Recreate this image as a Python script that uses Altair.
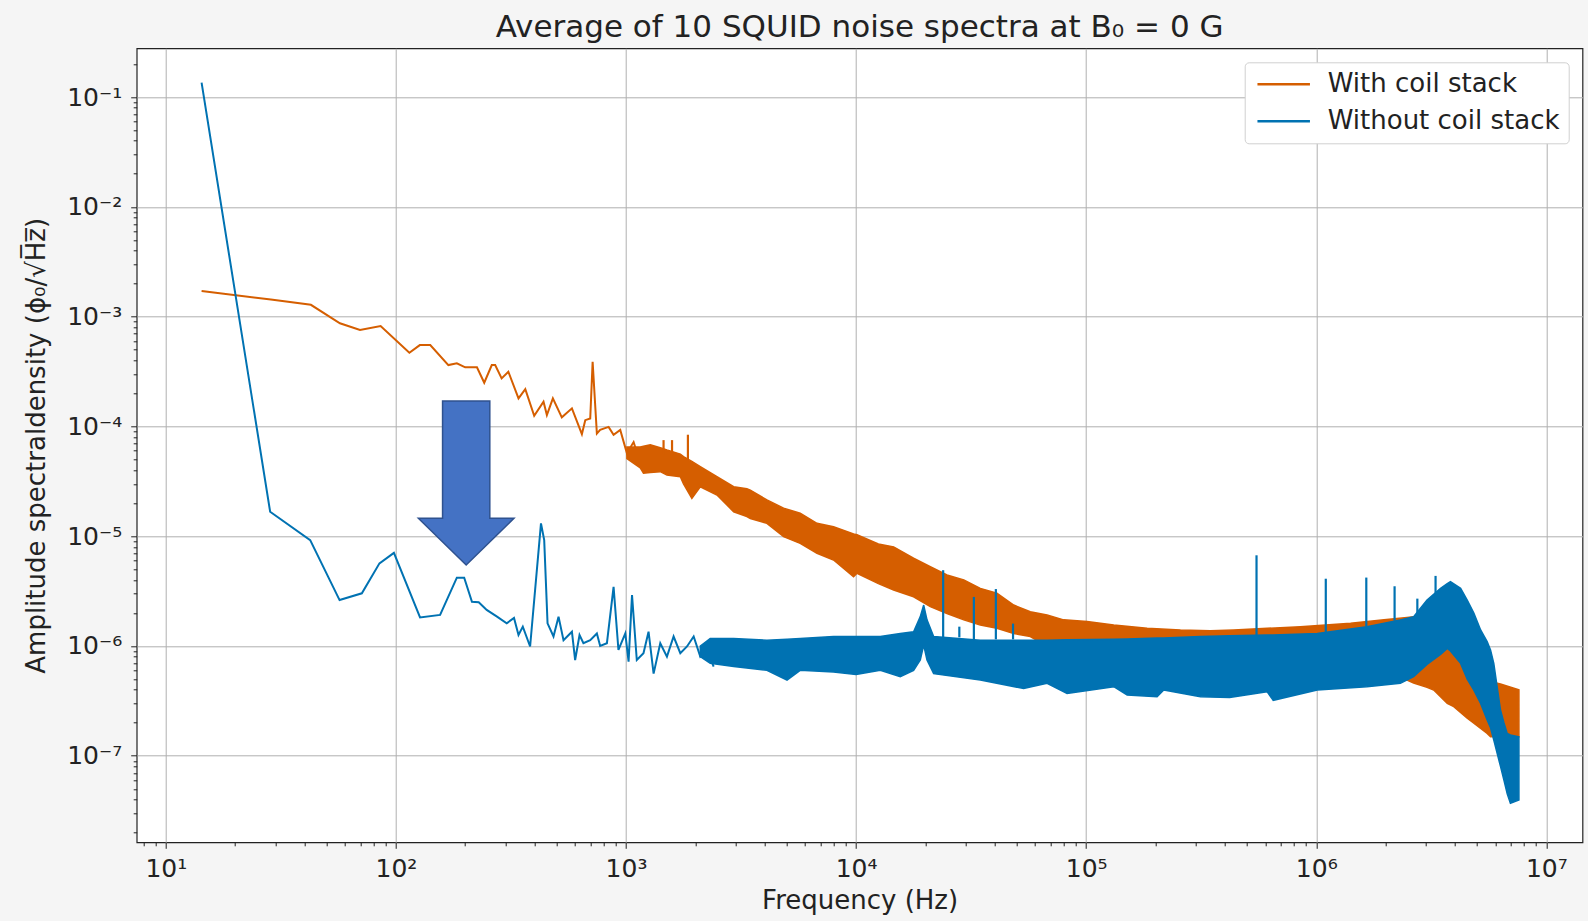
import math
import altair as alt
import pandas as pd

ORANGE = "#D55E00"
BLUE = "#0072B2"
SERIES = ["With coil stack", "Without coil stack"]

# ---- With coil stack: resolved low-frequency trace ----
orange_line_freq = [14.3, 28.6, 42.7, 57.1, 69.8, 85.8, 114.4, 127, 141, 169, 184, 200, 225, 242, 261,
                    270, 288, 308, 341, 365, 399, 438, 453, 481, 526, 582, 643, 665, 699, 716, 747,
                    772, 840, 883, 944, 1009, 1079, 1130]
orange_line_amp = [1.71e-3, 1.43e-3, 1.28e-3, 8.7e-4, 7.55e-4, 8.2e-4, 4.69e-4, 5.5e-4, 5.5e-4, 3.62e-4,
                   3.76e-4, 3.45e-4, 3.45e-4, 2.5e-4, 3.62e-4, 3.62e-4, 2.74e-4, 3.15e-4, 1.8e-4, 2.18e-4,
                   1.25e-4, 1.68e-4, 1.27e-4, 1.8e-4, 1.21e-4, 1.46e-4, 8.5e-5, 1.14e-4, 1.18e-4, 3.88e-4,
                   8.6e-5, 9.3e-5, 9.9e-5, 8.4e-5, 9.3e-5, 5.7e-5, 7.2e-5, 5.3e-5]

# ---- With coil stack: dense noise band (upper / lower envelope) ----
orange_band_freq = [1009, 1153, 1191, 1275, 1409, 1506, 1722, 1778, 1933, 2103, 2485, 2937, 3352, 3470,
                    4097, 4842, 5715, 6761, 7980, 9750, 10090, 12500, 14560, 17780, 21020, 24830, 29380,
                    34670, 40930, 48420, 57150, 67610, 79800, 100900, 131800, 184100, 257000, 346800,
                    437700, 853000, 1.41e6, 1.97e6, 2.48e6, 2.65e6, 3.03e6, 3.24e6, 3.71e6, 3.96e6,
                    4.53e6, 4.84e6, 5.53e6, 5.72e6, 6.12e6, 6.32e6, 7.6e6]
orange_band_upper = [6.5e-5, 6.5e-5, 6.6e-5, 6.8e-5, 6.4e-5, 6.1e-5, 5.6e-5, 5.3e-5, 4.8e-5, 4.3e-5,
                     3.48e-5, 2.82e-5, 2.7e-5, 2.63e-5, 2.14e-5, 1.8e-5, 1.62e-5, 1.31e-5, 1.22e-5,
                     1.05e-5, 1.03e-5, 8.5e-6, 8.0e-6, 6.3e-6, 5.27e-6, 4.43e-6, 4.0e-6, 3.35e-6, 3.02e-6,
                     2.36e-6, 2.05e-6, 1.92e-6, 1.73e-6, 1.67e-6, 1.55e-6, 1.45e-6, 1.40e-6, 1.38e-6,
                     1.40e-6, 1.50e-6, 1.61e-6, 1.73e-6, 1.82e-6, 1.85e-6, 1.6e-6, 1.4e-6, 1.1e-6, 1.0e-6,
                     8.0e-7, 7.0e-7, 5.5e-7, 5.0e-7, 4.57e-7, 4.5e-7, 4.0e-7]
orange_band_lower = [5.1e-5, 4.2e-5, 3.74e-5, 3.8e-5, 3.87e-5, 3.6e-5, 3.48e-5, 3.0e-5, 2.21e-5, 2.82e-5,
                     2.37e-5, 1.67e-5, 1.51e-5, 1.45e-5, 1.31e-5, 9.9e-6, 8.6e-6, 7.0e-6, 6.07e-6, 4.28e-6,
                     4.6e-6, 3.7e-6, 3.24e-6, 2.81e-6, 2.28e-6, 1.98e-6, 1.73e-6, 1.55e-6, 1.45e-6, 1.30e-6,
                     1.22e-6, 1.0e-6, 9.0e-7, 8.0e-7, 7.0e-7, 6.0e-7, 5.5e-7, 5.0e-7, 5.0e-7, 5.0e-7,
                     5.0e-7, 5.0e-7, 4.9e-7, 4.6e-7, 4.2e-7, 3.97e-7, 3.0e-7, 2.8e-7, 2.2e-7, 1.98e-7,
                     1.6e-7, 1.49e-7, 1.5e-7, 1.54e-7, 1.49e-7]

# ---- With coil stack: narrow lines sticking out of the band ----
orange_spike_freq = [1456, 1585, 1858]
orange_spike_base = [5.5e-5, 5.5e-5, 5.0e-5]
orange_spike_peak = [7.5e-5, 7.5e-5, 8.4e-5]

# ---- Without coil stack: resolved low-frequency trace ----
blue_line_freq = [14.3, 28.4, 42.4, 56.9, 71.1, 84.8, 98, 127.3, 155.6, 184, 198, 214, 229, 248, 275, 303,
                  326, 341, 356, 383, 427, 441, 456, 484, 509, 535, 582, 601, 628, 653, 699, 747, 772,
                  826, 883, 927, 993, 1026, 1062, 1114, 1191, 1253, 1318, 1409, 1506, 1610, 1722, 1841,
                  1968, 2103, 2249, 2404]
blue_line_amp = [0.135, 1.67e-5, 9.2e-6, 2.62e-6, 3.02e-6, 5.66e-6, 7.05e-6, 1.82e-6, 1.92e-6, 4.19e-6,
                 4.19e-6, 2.53e-6, 2.5e-6, 2.13e-6, 1.85e-6, 1.61e-6, 1.8e-6, 1.26e-6, 1.5e-6, 9.9e-7,
                 1.31e-5, 9.2e-6, 1.61e-6, 1.22e-6, 1.85e-6, 1.13e-6, 1.35e-6, 7.45e-7, 1.26e-6, 1.06e-6,
                 1.13e-6, 1.30e-6, 1.0e-6, 1.06e-6, 3.45e-6, 9.2e-7, 1.3e-6, 7.2e-7, 2.91e-6, 7.45e-7,
                 8.6e-7, 1.35e-6, 5.6e-7, 1.06e-6, 8.0e-7, 1.22e-6, 8.6e-7, 9.9e-7, 1.22e-6, 8.0e-7,
                 9.2e-7, 6.5e-7]

# ---- Without coil stack: dense noise band ----
blue_band_freq = [2103, 2323, 2937, 4097, 5010, 5715, 7980, 10000, 12740, 15560, 17780, 19010, 19670,
                  20330, 21730, 34670, 53500, 67610, 82600, 131800, 150700, 203300, 217300, 313900, 420000,
                  611000, 650000, 1.01e6, 1.66e6, 2.32e6, 2.65e6, 3.03e6, 3.47e6, 3.71e6, 3.83e6, 4.24e6,
                  4.53e6, 4.84e6, 5.18e6, 5.53e6, 5.72e6, 5.91e6, 6.32e6, 6.54e6, 6.76e6, 6.98e6, 7.6e6]
blue_band_upper = [1.0e-6, 1.17e-6, 1.17e-6, 1.13e-6, 1.15e-6, 1.17e-6, 1.22e-6, 1.22e-6, 1.22e-6, 1.30e-6,
                   1.35e-6, 1.85e-6, 2.36e-6, 1.73e-6, 1.22e-6, 1.13e-6, 1.13e-6, 1.13e-6, 1.14e-6,
                   1.15e-6, 1.16e-6, 1.18e-6, 1.18e-6, 1.22e-6, 1.24e-6, 1.26e-6, 1.26e-6, 1.30e-6,
                   1.50e-6, 1.73e-6, 1.85e-6, 2.62e-6, 3.35e-6, 3.7e-6, 3.86e-6, 3.35e-6, 2.62e-6, 2.0e-6,
                   1.40e-6, 1.1e-6, 9.2e-7, 6.95e-7, 2.61e-7, 2.0e-7, 1.6e-7, 1.55e-7, 1.49e-7]
blue_band_lower = [8.0e-7, 6.95e-7, 6.5e-7, 6.0e-7, 4.9e-7, 6.0e-7, 5.8e-7, 5.5e-7, 6.0e-7, 5.26e-7,
                   6.0e-7, 7.45e-7, 1.02e-6, 7.45e-7, 5.6e-7, 4.9e-7, 4.1e-7, 4.57e-7, 3.7e-7, 4.26e-7,
                   3.58e-7, 3.45e-7, 3.98e-7, 3.45e-7, 3.4e-7, 3.84e-7, 3.2e-7, 3.97e-7, 4.26e-7, 4.57e-7,
                   5.26e-7, 6.8e-7, 8.4e-7, 9.5e-7, 9.0e-7, 6.95e-7, 5.0e-7, 3.97e-7, 3.0e-7, 2.12e-7,
                   1.8e-7, 1.39e-7, 8.0e-8, 6.0e-8, 4.5e-8, 3.7e-8, 3.95e-8]

# ---- Without coil stack: narrow spectral lines ----
blue_spike_freq = [2.39e4, 2.81e4, 3.25e4, 4.05e4, 4.81e4, 5.5e5, 1.1e6, 1.65e6, 2.19e6, 2.75e6, 3.3e6]
blue_spike_base = [1.2e-6, 1.2e-6, 1.15e-6, 1.15e-6, 1.15e-6, 1.25e-6, 1.3e-6, 1.5e-6, 1.7e-6, 1.9e-6, 3.0e-6]
blue_spike_peak = [4.9e-6, 1.5e-6, 2.8e-6, 3.3e-6, 1.6e-6, 6.7e-6, 4.1e-6, 4.2e-6, 3.5e-6, 2.7e-6, 4.35e-6]

# ---- annotation arrow (data coordinates of its centre) ----
arrow_freq = [202]
arrow_amp = [3.05e-5]
ARROW_PATH = "M-0.288,-1 L0.288,-1 L0.288,0.43 L0.583,0.43 L0,1 L-0.583,0.43 L-0.288,0.43 Z"

# ---- axis tick values ----
x_major = [10.0, 100.0, 1000.0, 1e4, 1e5, 1e6, 1e7]
y_major = [1e-7, 1e-6, 1e-5, 1e-4, 1e-3, 1e-2, 1e-1]
x_minor = [float(f"{m}e{k}") for k in range(0, 7) for m in range(2, 10)]
x_minor = [v for v in x_minor if v > 7.47]
y_minor = [float(f"{m}e{k}") for k in range(-8, 0) for m in range(2, 10)]
y_minor = [v for v in y_minor if 1.63e-8 < v < 0.2777]

SUP = str.maketrans("0123456789-", "⁰¹²³⁴⁵⁶⁷⁸⁹⁻")


def label_expr(majors):
    expr = "''"
    for v in reversed(majors):
        e = int(round(math.log10(v)))
        expr = f"datum.value == {v!r} ? '10{str(e).translate(SUP)}' : ({expr})"
    return expr


def major_test(majors):
    return "indexof([" + ",".join(repr(v) for v in majors) + "], datum.value) >= 0"


FONT = "DejaVu Sans"
TXT = "#222222"

x_scale = alt.Scale(type="log", domain=[7.47, 1.436e7], nice=False)
y_scale = alt.Scale(type="log", domain=[1.63e-8, 0.2777], nice=False)

x_axis = alt.Axis(
    values=x_major + x_minor,
    labelExpr=label_expr(x_major),
    title="Frequency (Hz)",
    grid=True,
    gridColor="#b0b0b0",
    gridWidth=1,
    gridOpacity={"condition": {"test": major_test(x_major), "value": 1}, "value": 0},
    tickSize={"condition": {"test": major_test(x_major), "value": 6}, "value": 3.5},
    tickColor=TXT,
    domain=False,
    labelFont=FONT,
    labelFontSize=25,
    labelColor=TXT,
    labelPadding=8,
    labelOverlap=False,
    labelFlush=False,
    titleFont=FONT,
    titleFontSize=26,
    titleFontWeight="normal",
    titleColor=TXT,
    titlePadding=6,
)

y_axis = alt.Axis(
    values=y_major + y_minor,
    labelExpr=label_expr(y_major),
    title="Amplitude spectraldensity (ϕ₀/√H̅z̅)",
    grid=True,
    gridColor="#b0b0b0",
    gridWidth=1,
    gridOpacity={"condition": {"test": major_test(y_major), "value": 1}, "value": 0},
    tickSize={"condition": {"test": major_test(y_major), "value": 6}, "value": 3.5},
    tickColor=TXT,
    domain=False,
    labelFont=FONT,
    labelFontSize=25,
    labelColor=TXT,
    labelPadding=9,
    labelOverlap=False,
    titleFont=FONT,
    titleFontSize=26,
    titleFontWeight="normal",
    titleColor=TXT,
    titlePadding=17,
)

orange_line_df = pd.DataFrame({"freq": orange_line_freq, "amp": orange_line_amp, "series": SERIES[0]})
blue_line_df = pd.DataFrame({"freq": blue_line_freq, "amp": blue_line_amp, "series": SERIES[1]})
orange_band_df = pd.DataFrame({"freq": orange_band_freq, "upper": orange_band_upper, "lower": orange_band_lower})
blue_band_df = pd.DataFrame({"freq": blue_band_freq, "upper": blue_band_upper, "lower": blue_band_lower})
orange_spike_df = pd.DataFrame({"freq": orange_spike_freq, "base": orange_spike_base, "peak": orange_spike_peak})
spike_df = pd.DataFrame({"freq": blue_spike_freq, "base": blue_spike_base, "peak": blue_spike_peak})
arrow_df = pd.DataFrame({"freq": arrow_freq, "amp": arrow_amp})

color = alt.Color(
    "series:N",
    scale=alt.Scale(domain=SERIES, range=[ORANGE, BLUE]),
    title=None,
    legend=alt.Legend(
        orient="none",
        legendX=1108,
        legendY=14,
        symbolType="M-2.5,0L2.5,0",
        symbolSize=441,
        symbolStrokeWidth=2.5,
        symbolOffset=17,
        labelOffset=31,
        labelFont=FONT,
        labelFontSize=26,
        labelColor=TXT,
        labelLimit=400,
        padding=9,
        rowPadding=11,
        strokeColor="#d0d0d0",
        fillColor="white",
        cornerRadius=4,
    ),
)

orange_line = alt.Chart(orange_line_df).mark_line(strokeWidth=2, clip=True).encode(
    x=alt.X("freq:Q", scale=x_scale, axis=x_axis),
    y=alt.Y("amp:Q", scale=y_scale, axis=y_axis),
    color=color,
)

orange_band = alt.Chart(orange_band_df).mark_area(
    color=ORANGE, opacity=1, stroke=ORANGE, strokeWidth=1.5, clip=True
).encode(
    x=alt.X("freq:Q", scale=x_scale),
    y=alt.Y("upper:Q", scale=y_scale),
    y2="lower:Q",
)

orange_spikes = alt.Chart(orange_spike_df).mark_rule(color=ORANGE, strokeWidth=2.2, clip=True).encode(
    x=alt.X("freq:Q", scale=x_scale),
    y=alt.Y("base:Q", scale=y_scale),
    y2="peak:Q",
)

blue_line = alt.Chart(blue_line_df).mark_line(strokeWidth=2, clip=True).encode(
    x=alt.X("freq:Q", scale=x_scale),
    y=alt.Y("amp:Q", scale=y_scale),
    color=color,
)

blue_band = alt.Chart(blue_band_df).mark_area(
    color=BLUE, opacity=1, stroke=BLUE, strokeWidth=1.5, clip=True
).encode(
    x=alt.X("freq:Q", scale=x_scale),
    y=alt.Y("upper:Q", scale=y_scale),
    y2="lower:Q",
)

spikes = alt.Chart(spike_df).mark_rule(color=BLUE, strokeWidth=2.2, clip=True).encode(
    x=alt.X("freq:Q", scale=x_scale),
    y=alt.Y("base:Q", scale=y_scale),
    y2="peak:Q",
)

arrow = alt.Chart(arrow_df).mark_point(
    shape=ARROW_PATH, size=164 * 164, filled=True, fill="#4472C4", stroke="#2F528F",
    strokeWidth=1.5, opacity=1,
).encode(
    x=alt.X("freq:Q", scale=x_scale),
    y=alt.Y("amp:Q", scale=y_scale),
)

chart = alt.layer(orange_line, orange_band, orange_spikes, blue_line, blue_band, spikes, arrow).properties(
    width=1445.8,
    height=794,
    title=alt.TitleParams(
        "Average of 10 SQUID noise spectra at B₀ = 0 G",
        font=FONT,
        fontSize=31,
        fontWeight="normal",
        color=TXT,
        anchor="middle",
        offset=4,
    ),
    autosize=alt.AutoSizeParams(type="none"),
    padding={"left": 136.7, "top": 48.3, "right": 5.5, "bottom": 78.7},
    background="#f5f5f5",
).configure_view(
    fill="white", stroke=TXT, strokeWidth=1.2
)

chart.save("out.html", embed_options={"renderer": "svg", "actions": False})
